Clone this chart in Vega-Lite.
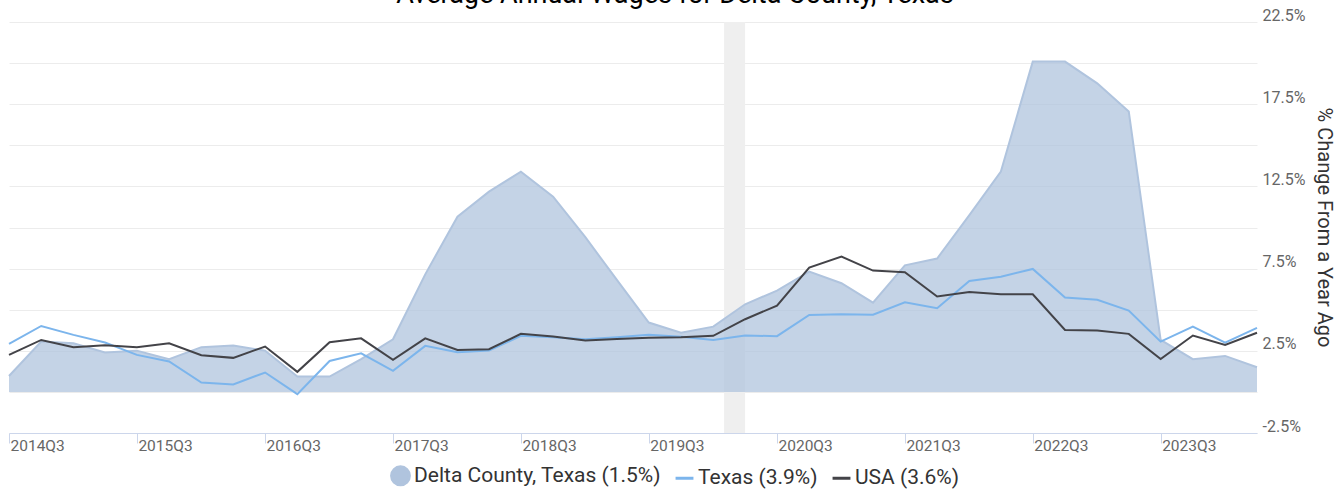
{
  "$schema": "https://vega.github.io/schema/vega-lite/v6.json",
  "autosize": {"type": "none"},
  "width": 1248,
  "height": 411,
  "padding": {"left": 9, "top": 22, "right": 87, "bottom": 58},
  "background": "white",
  "title": {"text": "Average Annual Wages for Delta County, Texas", "font": "Roboto", "fontSize": 27, "fontWeight": "normal", "color": "#000000", "anchor": "middle", "dx": 42, "dy": 6},
  "config": {"view": {"stroke": null}, "font": "Roboto"},
  "datasets": {
    "recession": [{"start": "2020-02-01T00:00:00", "end": "2020-04-01T00:00:00"}],
    "wages": [
      {"date": "2014-07-01T00:00:00", "series": "Delta County, Texas (1.5%)", "value": 0.97},
      {"date": "2014-10-01T00:00:00", "series": "Delta County, Texas (1.5%)", "value": 3.06},
      {"date": "2015-01-01T00:00:00", "series": "Delta County, Texas (1.5%)", "value": 2.96},
      {"date": "2015-04-01T00:00:00", "series": "Delta County, Texas (1.5%)", "value": 2.40},
      {"date": "2015-07-01T00:00:00", "series": "Delta County, Texas (1.5%)", "value": 2.51},
      {"date": "2015-10-01T00:00:00", "series": "Delta County, Texas (1.5%)", "value": 1.99},
      {"date": "2016-01-01T00:00:00", "series": "Delta County, Texas (1.5%)", "value": 2.72},
      {"date": "2016-04-01T00:00:00", "series": "Delta County, Texas (1.5%)", "value": 2.82},
      {"date": "2016-07-01T00:00:00", "series": "Delta County, Texas (1.5%)", "value": 2.51},
      {"date": "2016-10-01T00:00:00", "series": "Delta County, Texas (1.5%)", "value": 0.93},
      {"date": "2017-01-01T00:00:00", "series": "Delta County, Texas (1.5%)", "value": 0.93},
      {"date": "2017-04-01T00:00:00", "series": "Delta County, Texas (1.5%)", "value": 1.99},
      {"date": "2017-07-01T00:00:00", "series": "Delta County, Texas (1.5%)", "value": 3.20},
      {"date": "2017-10-01T00:00:00", "series": "Delta County, Texas (1.5%)", "value": 7.15},
      {"date": "2018-01-01T00:00:00", "series": "Delta County, Texas (1.5%)", "value": 10.66},
      {"date": "2018-04-01T00:00:00", "series": "Delta County, Texas (1.5%)", "value": 12.18},
      {"date": "2018-07-01T00:00:00", "series": "Delta County, Texas (1.5%)", "value": 13.40},
      {"date": "2018-10-01T00:00:00", "series": "Delta County, Texas (1.5%)", "value": 11.88},
      {"date": "2019-01-01T00:00:00", "series": "Delta County, Texas (1.5%)", "value": 9.41},
      {"date": "2019-04-01T00:00:00", "series": "Delta County, Texas (1.5%)", "value": 6.81},
      {"date": "2019-07-01T00:00:00", "series": "Delta County, Texas (1.5%)", "value": 4.22},
      {"date": "2019-10-01T00:00:00", "series": "Delta County, Texas (1.5%)", "value": 3.60},
      {"date": "2020-01-01T00:00:00", "series": "Delta County, Texas (1.5%)", "value": 3.97},
      {"date": "2020-04-01T00:00:00", "series": "Delta County, Texas (1.5%)", "value": 5.33},
      {"date": "2020-07-01T00:00:00", "series": "Delta County, Texas (1.5%)", "value": 6.16},
      {"date": "2020-10-01T00:00:00", "series": "Delta County, Texas (1.5%)", "value": 7.32},
      {"date": "2021-01-01T00:00:00", "series": "Delta County, Texas (1.5%)", "value": 6.61},
      {"date": "2021-04-01T00:00:00", "series": "Delta County, Texas (1.5%)", "value": 5.43},
      {"date": "2021-07-01T00:00:00", "series": "Delta County, Texas (1.5%)", "value": 7.70},
      {"date": "2021-10-01T00:00:00", "series": "Delta County, Texas (1.5%)", "value": 8.11},
      {"date": "2022-01-01T00:00:00", "series": "Delta County, Texas (1.5%)", "value": 10.75},
      {"date": "2022-04-01T00:00:00", "series": "Delta County, Texas (1.5%)", "value": 13.40},
      {"date": "2022-07-01T00:00:00", "series": "Delta County, Texas (1.5%)", "value": 20.09},
      {"date": "2022-10-01T00:00:00", "series": "Delta County, Texas (1.5%)", "value": 20.09},
      {"date": "2023-01-01T00:00:00", "series": "Delta County, Texas (1.5%)", "value": 18.77},
      {"date": "2023-04-01T00:00:00", "series": "Delta County, Texas (1.5%)", "value": 17.05},
      {"date": "2023-07-01T00:00:00", "series": "Delta County, Texas (1.5%)", "value": 3.16},
      {"date": "2023-10-01T00:00:00", "series": "Delta County, Texas (1.5%)", "value": 1.99},
      {"date": "2024-01-01T00:00:00", "series": "Delta County, Texas (1.5%)", "value": 2.19},
      {"date": "2024-04-01T00:00:00", "series": "Delta County, Texas (1.5%)", "value": 1.50},
      {"date": "2014-07-01T00:00:00", "series": "Texas (3.9%)", "value": 2.92},
      {"date": "2014-10-01T00:00:00", "series": "Texas (3.9%)", "value": 4.01},
      {"date": "2015-01-01T00:00:00", "series": "Texas (3.9%)", "value": 3.47},
      {"date": "2015-04-01T00:00:00", "series": "Texas (3.9%)", "value": 3.00},
      {"date": "2015-07-01T00:00:00", "series": "Texas (3.9%)", "value": 2.25},
      {"date": "2015-10-01T00:00:00", "series": "Texas (3.9%)", "value": 1.85},
      {"date": "2016-01-01T00:00:00", "series": "Texas (3.9%)", "value": 0.57},
      {"date": "2016-04-01T00:00:00", "series": "Texas (3.9%)", "value": 0.45},
      {"date": "2016-07-01T00:00:00", "series": "Texas (3.9%)", "value": 1.18},
      {"date": "2016-10-01T00:00:00", "series": "Texas (3.9%)", "value": -0.14},
      {"date": "2017-01-01T00:00:00", "series": "Texas (3.9%)", "value": 1.88},
      {"date": "2017-04-01T00:00:00", "series": "Texas (3.9%)", "value": 2.35},
      {"date": "2017-07-01T00:00:00", "series": "Texas (3.9%)", "value": 1.28},
      {"date": "2017-10-01T00:00:00", "series": "Texas (3.9%)", "value": 2.80},
      {"date": "2018-01-01T00:00:00", "series": "Texas (3.9%)", "value": 2.41},
      {"date": "2018-04-01T00:00:00", "series": "Texas (3.9%)", "value": 2.51},
      {"date": "2018-07-01T00:00:00", "series": "Texas (3.9%)", "value": 3.41},
      {"date": "2018-10-01T00:00:00", "series": "Texas (3.9%)", "value": 3.33},
      {"date": "2019-01-01T00:00:00", "series": "Texas (3.9%)", "value": 3.20},
      {"date": "2019-04-01T00:00:00", "series": "Texas (3.9%)", "value": 3.33},
      {"date": "2019-07-01T00:00:00", "series": "Texas (3.9%)", "value": 3.47},
      {"date": "2019-10-01T00:00:00", "series": "Texas (3.9%)", "value": 3.36},
      {"date": "2020-01-01T00:00:00", "series": "Texas (3.9%)", "value": 3.16},
      {"date": "2020-04-01T00:00:00", "series": "Texas (3.9%)", "value": 3.43},
      {"date": "2020-07-01T00:00:00", "series": "Texas (3.9%)", "value": 3.39},
      {"date": "2020-10-01T00:00:00", "series": "Texas (3.9%)", "value": 4.68},
      {"date": "2021-01-01T00:00:00", "series": "Texas (3.9%)", "value": 4.72},
      {"date": "2021-04-01T00:00:00", "series": "Texas (3.9%)", "value": 4.70},
      {"date": "2021-07-01T00:00:00", "series": "Texas (3.9%)", "value": 5.45},
      {"date": "2021-10-01T00:00:00", "series": "Texas (3.9%)", "value": 5.09},
      {"date": "2022-01-01T00:00:00", "series": "Texas (3.9%)", "value": 6.75},
      {"date": "2022-04-01T00:00:00", "series": "Texas (3.9%)", "value": 7.01},
      {"date": "2022-07-01T00:00:00", "series": "Texas (3.9%)", "value": 7.48},
      {"date": "2022-10-01T00:00:00", "series": "Texas (3.9%)", "value": 5.74},
      {"date": "2023-01-01T00:00:00", "series": "Texas (3.9%)", "value": 5.60},
      {"date": "2023-04-01T00:00:00", "series": "Texas (3.9%)", "value": 4.95},
      {"date": "2023-07-01T00:00:00", "series": "Texas (3.9%)", "value": 3.06},
      {"date": "2023-10-01T00:00:00", "series": "Texas (3.9%)", "value": 3.97},
      {"date": "2024-01-01T00:00:00", "series": "Texas (3.9%)", "value": 3.00},
      {"date": "2024-04-01T00:00:00", "series": "Texas (3.9%)", "value": 3.90},
      {"date": "2014-07-01T00:00:00", "series": "USA (3.6%)", "value": 2.25},
      {"date": "2014-10-01T00:00:00", "series": "USA (3.6%)", "value": 3.16},
      {"date": "2015-01-01T00:00:00", "series": "USA (3.6%)", "value": 2.72},
      {"date": "2015-04-01T00:00:00", "series": "USA (3.6%)", "value": 2.84},
      {"date": "2015-07-01T00:00:00", "series": "USA (3.6%)", "value": 2.72},
      {"date": "2015-10-01T00:00:00", "series": "USA (3.6%)", "value": 2.96},
      {"date": "2016-01-01T00:00:00", "series": "USA (3.6%)", "value": 2.23},
      {"date": "2016-04-01T00:00:00", "series": "USA (3.6%)", "value": 2.07},
      {"date": "2016-07-01T00:00:00", "series": "USA (3.6%)", "value": 2.76},
      {"date": "2016-10-01T00:00:00", "series": "USA (3.6%)", "value": 1.22},
      {"date": "2017-01-01T00:00:00", "series": "USA (3.6%)", "value": 3.02},
      {"date": "2017-04-01T00:00:00", "series": "USA (3.6%)", "value": 3.26},
      {"date": "2017-07-01T00:00:00", "series": "USA (3.6%)", "value": 1.95},
      {"date": "2017-10-01T00:00:00", "series": "USA (3.6%)", "value": 3.26},
      {"date": "2018-01-01T00:00:00", "series": "USA (3.6%)", "value": 2.55},
      {"date": "2018-04-01T00:00:00", "series": "USA (3.6%)", "value": 2.60},
      {"date": "2018-07-01T00:00:00", "series": "USA (3.6%)", "value": 3.53},
      {"date": "2018-10-01T00:00:00", "series": "USA (3.6%)", "value": 3.37},
      {"date": "2019-01-01T00:00:00", "series": "USA (3.6%)", "value": 3.12},
      {"date": "2019-04-01T00:00:00", "series": "USA (3.6%)", "value": 3.22},
      {"date": "2019-07-01T00:00:00", "series": "USA (3.6%)", "value": 3.30},
      {"date": "2019-10-01T00:00:00", "series": "USA (3.6%)", "value": 3.33},
      {"date": "2020-01-01T00:00:00", "series": "USA (3.6%)", "value": 3.41},
      {"date": "2020-04-01T00:00:00", "series": "USA (3.6%)", "value": 4.42},
      {"date": "2020-07-01T00:00:00", "series": "USA (3.6%)", "value": 5.25},
      {"date": "2020-10-01T00:00:00", "series": "USA (3.6%)", "value": 7.56},
      {"date": "2021-01-01T00:00:00", "series": "USA (3.6%)", "value": 8.23},
      {"date": "2021-04-01T00:00:00", "series": "USA (3.6%)", "value": 7.38},
      {"date": "2021-07-01T00:00:00", "series": "USA (3.6%)", "value": 7.28},
      {"date": "2021-10-01T00:00:00", "series": "USA (3.6%)", "value": 5.80},
      {"date": "2022-01-01T00:00:00", "series": "USA (3.6%)", "value": 6.08},
      {"date": "2022-04-01T00:00:00", "series": "USA (3.6%)", "value": 5.94},
      {"date": "2022-07-01T00:00:00", "series": "USA (3.6%)", "value": 5.94},
      {"date": "2022-10-01T00:00:00", "series": "USA (3.6%)", "value": 3.77},
      {"date": "2023-01-01T00:00:00", "series": "USA (3.6%)", "value": 3.73},
      {"date": "2023-04-01T00:00:00", "series": "USA (3.6%)", "value": 3.53},
      {"date": "2023-07-01T00:00:00", "series": "USA (3.6%)", "value": 2.00},
      {"date": "2023-10-01T00:00:00", "series": "USA (3.6%)", "value": 3.43},
      {"date": "2024-01-01T00:00:00", "series": "USA (3.6%)", "value": 2.86},
      {"date": "2024-04-01T00:00:00", "series": "USA (3.6%)", "value": 3.60}
    ]
  },
  "data": {"name": "wages"},
  "layer": [
    {
      "data": {"name": "recession"},
      "mark": {"type": "rect", "color": "#efefef"},
      "encoding": {
        "x": {
          "field": "start", "type": "temporal", "title": null,
          "scale": {"domain": [{"year": 2014, "month": 7, "date": 1}, {"year": 2024, "month": 4, "date": 1}], "nice": false},
          "axis": {
            "title": null,
            "values": [
              {"year": 2014, "month": 7, "date": 1}, {"year": 2015, "month": 7, "date": 1},
              {"year": 2016, "month": 7, "date": 1}, {"year": 2017, "month": 7, "date": 1},
              {"year": 2018, "month": 7, "date": 1}, {"year": 2019, "month": 7, "date": 1},
              {"year": 2020, "month": 7, "date": 1}, {"year": 2021, "month": 7, "date": 1},
              {"year": 2022, "month": 7, "date": 1}, {"year": 2023, "month": 7, "date": 1}
            ],
            "format": "%YQ%q",
            "grid": false,
            "labelAlign": "left",
            "labelBaseline": "middle",
            "labelPadding": 2,
            "labelOffset": 1,
            "labelFlush": false,
            "labelOverlap": false,
            "labelFont": "Roboto",
            "labelFontSize": 15.5,
            "labelColor": "#666666",
            "tickSize": 10,
            "tickColor": "#ccd6eb",
            "tickWidth": 1,
            "domainColor": "#ccd6eb",
            "domainWidth": 1
          }
        },
        "x2": {"field": "end"}
      }
    },
    {
      "transform": [{"filter": "datum.series == 'Delta County, Texas (1.5%)'"}],
      "mark": {"type": "area", "fillOpacity": 0.75, "line": {"strokeWidth": 2}},
      "encoding": {
        "x": {"field": "date", "type": "temporal", "title": null},
        "y": {
          "field": "value", "type": "quantitative",
          "scale": {"domain": [-2.5, 22.5], "nice": false, "zero": false},
          "axis": {
            "orient": "right",
            "title": "% Change From a Year Ago",
            "values": [-2.5, 0, 2.5, 5, 7.5, 10, 12.5, 15, 17.5, 20, 22.5],
            "labelExpr": "(datum.value + 2.5) % 5 == 0 ? datum.value + '%' : ''",
            "grid": true,
            "gridColor": "#ececec",
            "gridWidth": 1,
            "domain": false,
            "ticks": false,
            "tickSize": 0,
            "labelPadding": 5,
            "labelOffset": -7,
            "labelFlush": false,
            "labelOverlap": false,
            "labelFont": "Roboto",
            "labelFontSize": 16,
            "labelColor": "#666666",
            "titleFont": "Roboto",
            "titleFontSize": 20,
            "titleFontWeight": "normal",
            "titleColor": "#333333",
            "titleAngle": 90,
            "titleX": 66,
            "titleY": 205,
            "titleAlign": "center",
            "titleBaseline": "middle"
          }
        },
        "y2": {"datum": 0},
        "color": {
          "field": "series", "type": "nominal",
          "scale": {"domain": ["Delta County, Texas (1.5%)", "Texas (3.9%)", "USA (3.6%)"], "range": ["#b0c4de", "#7cb5ec", "#434348"]},
          "legend": {
            "title": null,
            "orient": "none",
            "legendX": 381,
            "legendY": 443,
            "direction": "horizontal",
            "labelFont": "Roboto",
            "labelFontSize": 21,
            "labelColor": "#333333",
            "labelLimit": 0,
            "labelOffset": 3,
            "columnPadding": 8,
            "symbolSize": 320,
            "symbolStrokeWidth": 3,
            "encode": {
              "symbols": {
                "update": {
                  "shape": {"signal": "datum.value == 'Delta County, Texas (1.5%)' ? 'circle' : 'stroke'"},
                  "fill": {"signal": "datum.value == 'Delta County, Texas (1.5%)' ? '#b0c4de' : 'transparent'"},
                  "stroke": {"signal": "datum.value == 'Delta County, Texas (1.5%)' ? 'transparent' : (datum.value == 'Texas (3.9%)' ? '#7cb5ec' : '#434348')"},
                  "opacity": {"value": 1},
                  "fillOpacity": {"value": 1},
                  "strokeWidth": {"value": 3}
                }
              }
            }
          }
        }
      }
    },
    {
      "transform": [{"filter": "datum.series != 'Delta County, Texas (1.5%)'"}],
      "mark": {"type": "line", "strokeWidth": 2},
      "encoding": {
        "x": {"field": "date", "type": "temporal", "title": null},
        "y": {"field": "value", "type": "quantitative"},
        "color": {"field": "series", "type": "nominal"}
      }
    }
  ]
}
